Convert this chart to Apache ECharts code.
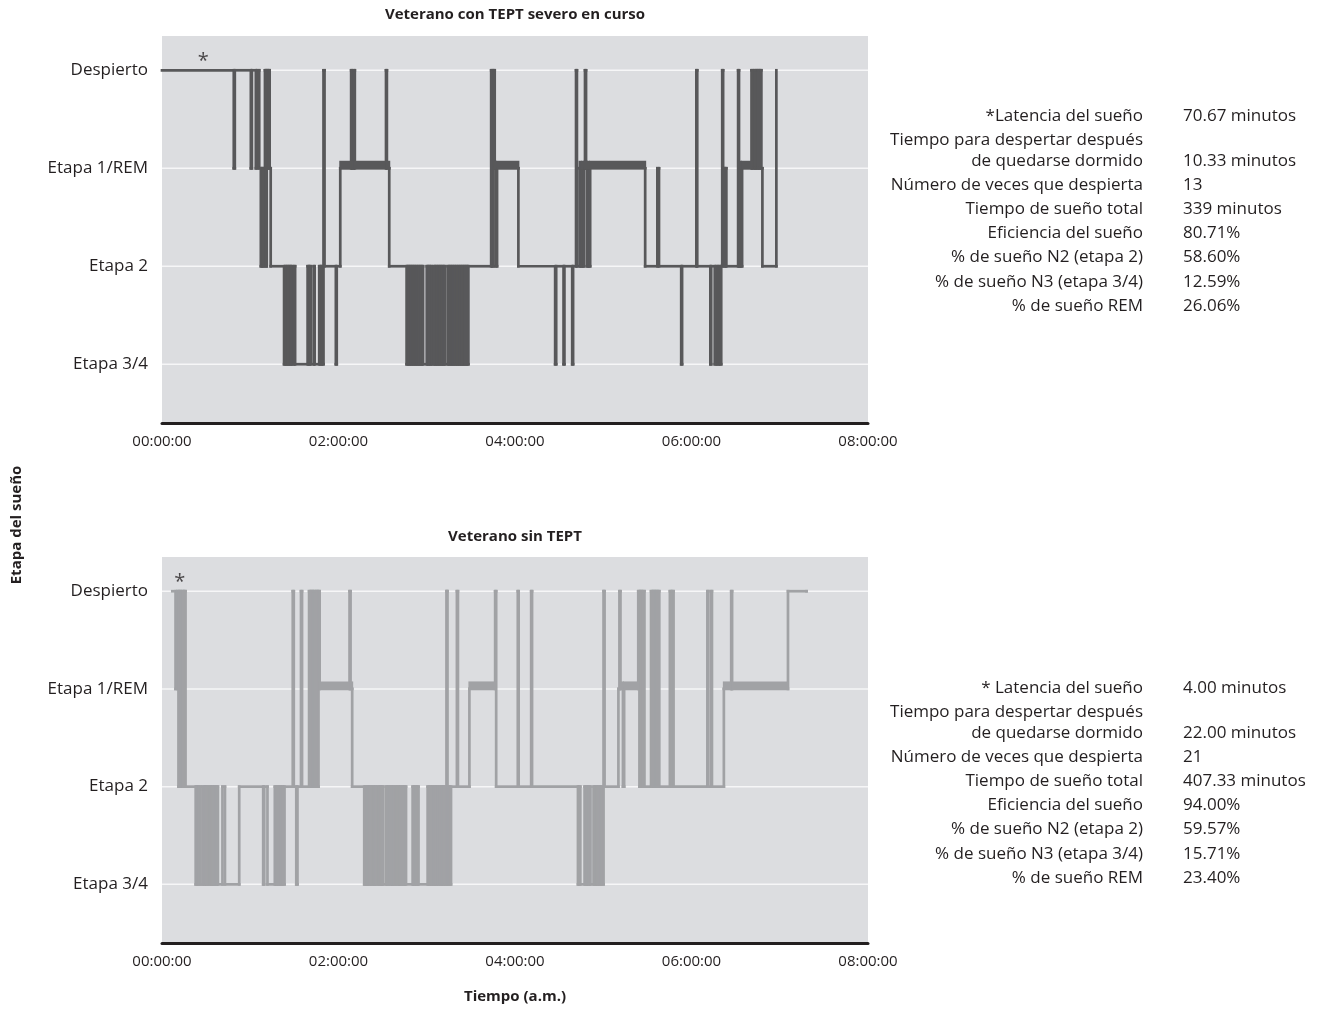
<!DOCTYPE html>
<html>
<head>
<meta charset="utf-8">
<title>Hipnogramas</title>
<script src="https://cdn.jsdelivr.net/npm/echarts@6/dist/echarts.min.js"></script>
<style>
  html, body { margin: 0; padding: 0; background: #ffffff; }
  #chart { width: 1321px; height: 1009px; }
</style>
</head>
<body>
<div id="chart"></div>
<script>
// Sleep stages shown on the vertical axis, bottom to top
const etapas = ['Etapa 3/4', 'Etapa 2', 'Etapa 1/REM', 'Despierto'];
// Clock labels for the time axis (minutes 0, 120, 240, 360, 480)
const horas = ['00:00:00', '02:00:00', '04:00:00', '06:00:00', '08:00:00'];

// Stage changes: [minute since start, stage]; W = awake, N1, R = REM, N2, N3
const severo = [
  [0,'W'],
  [48.8,'N1'],[49.5,'W'],[60.4,'N1'],[61.1,'W'],
  [63.8,'N1'],[64.6,'W'],[66.1,'N1'],[67.2,'N2'],[67.9,'N1'],[68.6,'N2'],[69.3,'N1'],[70,'W'],[70.6,'N2'],[71.2,'W'],[71.8,'N1'],[72.5,'W'],[73.2,'N1'],[73.9,'N2'],
  [83,'N3'],[83.7,'N2'],[84.4,'N3'],[85.1,'N2'],[85.8,'N3'],[86.5,'N2'],[87.2,'N3'],[87.9,'N2'],[88.6,'N3'],
  [89.8,'N2'],[90.5,'N3'],
  [99,'N2'],[99.7,'N3'],[100.4,'N2'],[101.1,'N3'],
  [103.1,'N2'],[103.8,'N3'],
  [106.9,'N2'],[107.6,'N3'],[108.4,'N2'],[109.1,'N3'],
  [109.8,'W'],[110.5,'N2'],
  [118.2,'N3'],[118.8,'N2'],
  [121.2,'R'],
  [128.6,'W'],[129.3,'R'],[130.3,'W'],[131.1,'R'],
  [152.3,'W'],[152.9,'R'],
  [154.5,'N2'],
  [166.3,'N3'],[167,'N2'],[167.7,'N3'],[168.4,'N2'],[169.1,'N3'],[169.8,'N2'],[170.5,'N3'],[171.2,'N2'],[171.9,'N3'],[172.6,'N2'],[173.3,'N3'],[174,'N2'],[174.7,'N3'],[175.4,'N2'],[176.1,'N3'],[176.8,'N2'],[177.5,'N3'],
  [180,'N2'],[180.7,'N3'],[181.4,'N2'],[182.1,'N3'],[182.8,'N2'],[183.5,'N3'],
  [184.8,'N2'],[185.5,'N3'],[186.2,'N2'],[186.9,'N3'],[187.6,'N2'],[188.3,'N3'],[189,'N2'],[189.7,'N3'],[190.4,'N2'],[191.1,'N3'],[191.8,'N2'],[192.5,'N3'],
  [194.3,'N2'],[195,'N3'],[195.7,'N2'],[196.4,'N3'],[197.1,'N2'],[197.8,'N3'],[198.5,'N2'],[199.2,'N3'],[199.9,'N2'],[200.6,'N3'],[201.3,'N2'],[202,'N3'],[202.7,'N2'],[203.4,'N3'],[204.1,'N2'],[204.8,'N3'],[205.5,'N2'],[206.2,'N3'],[206.9,'N2'],[207.6,'N3'],[208.3,'N2'],
  [223.8,'W'],[224.6,'N2'],[225.4,'W'],[226.2,'R'],[227,'N2'],[227.8,'R'],
  [242.3,'N2'],
  [267.3,'N3'],[268,'N2'],[273,'N3'],[273.6,'N2'],[278.9,'N3'],[279.5,'N2'],
  [281.5,'W'],[282.1,'N2'],[283.9,'R'],[284.7,'N2'],[285.5,'R'],[286.2,'N2'],[287,'R'],[287.6,'W'],[288.3,'R'],[289,'N2'],[289.7,'R'],[290.4,'N2'],[291.1,'R'],
  [328.5,'N2'],
  [336.8,'N1'],[337.9,'N2'],
  [353,'N3'],[353.6,'N2'],
  [363.3,'W'],[363.9,'N2'],
  [372.8,'N3'],[373.4,'N2'],
  [375.8,'N3'],[376.7,'N2'],[377.6,'N3'],[378.5,'N2'],[379.4,'N3'],[380.2,'N2'],
  [380.9,'W'],[381.5,'N1'],[382.2,'N2'],[383,'N1'],[383.7,'N2'],
  [391.7,'W'],[392.3,'N2'],[393,'R'],[393.7,'N2'],[394.4,'R'],
  [400.8,'W'],[401.5,'N1'],[402.6,'W'],[403.3,'N1'],[404,'W'],[404.7,'N1'],[405.4,'W'],[406.1,'N1'],[406.8,'W'],[407.5,'N1'],[408.2,'N2'],
  [417.7,'W']
];

const sinTept = [
  [7,'W'],[9.2,'N1'],[10.4,'W'],[11.2,'N2'],[12,'W'],[12.8,'N2'],[13.6,'W'],[14.4,'N2'],[15.2,'W'],[16,'N2'],
  [22.9,'N3'],[23.7,'N2'],[24.5,'N3'],[25.3,'N2'],[26.2,'N3'],[27.6,'N2'],[28.4,'N3'],[29.2,'N2'],[30,'N3'],[30.8,'N2'],[31.6,'N3'],[32.4,'N2'],[33.2,'N3'],[34,'N2'],[34.8,'N3'],[35.6,'N2'],[36.4,'N3'],[37.2,'N2'],[38,'N3'],
  [41.1,'N2'],[42.8,'N3'],
  [52.5,'N2'],
  [68.8,'N3'],[69.5,'N2'],[71.7,'N3'],
  [76.7,'N2'],[77.5,'N3'],[78.3,'N2'],[79.1,'N3'],[79.9,'N2'],[80.7,'N3'],[81.5,'N2'],[82.3,'N3'],[83.3,'N2'],
  [88.9,'W'],[89.6,'N2'],[91.3,'N3'],[92.1,'N2'],[94.5,'W'],[95.2,'N2'],
  [100,'W'],[100.8,'N2'],[101.6,'W'],[102.4,'N2'],[103.2,'W'],[104,'N2'],[104.8,'W'],[105.6,'N2'],[106.4,'W'],[107.2,'R'],
  [127.5,'W'],[128.2,'R'],[129.3,'N2'],
  [137.5,'N3'],[138.3,'N2'],[139.1,'N3'],[139.9,'N2'],[140.7,'N3'],[141.5,'N2'],[142.3,'N3'],[143.1,'N2'],[143.9,'N3'],[144.7,'N2'],[145.4,'N3'],
  [146.5,'N2'],[147.3,'N3'],[148.1,'N2'],[148.9,'N3'],[149.7,'N2'],[150.4,'N3'],
  [152.3,'N2'],[153.1,'N3'],[153.9,'N2'],[154.7,'N3'],[155.5,'N2'],[156.3,'N3'],[157.1,'N2'],[157.9,'N3'],[158.7,'N2'],[159.5,'N3'],[160.3,'N2'],[161.1,'N3'],[161.9,'N2'],[162.7,'N3'],[163.5,'N2'],[164.3,'N3'],[165.1,'N2'],[165.9,'N3'],
  [170.4,'N2'],[171.2,'N3'],[172,'N2'],[172.8,'N3'],[173.6,'N2'],[174.4,'N3'],
  [180.6,'N2'],[181.4,'N3'],[182.2,'N2'],[183,'N3'],[183.8,'N2'],[184.6,'N3'],[185.4,'N2'],[186.2,'N3'],[187,'N2'],[187.8,'N3'],[188.6,'N2'],[189.4,'N3'],[190.2,'N2'],[191,'N3'],[191.8,'N2'],[192.6,'N3'],[193.4,'W'],[194.1,'N3'],[194.8,'N2'],[195.5,'N3'],[196.5,'N2'],
  [200.5,'W'],[201.2,'N2'],
  [209,'R'],
  [226.5,'W'],[227.2,'N2'],
  [241.9,'W'],[242.5,'N2'],[251,'W'],[251.6,'N2'],
  [282.8,'N3'],[283.6,'N2'],[284.4,'N3'],
  [287.3,'N2'],[288.1,'N3'],[288.9,'N2'],[289.7,'N3'],[290.5,'N2'],[291.3,'N3'],
  [293.4,'N2'],[294.2,'N3'],[295,'N2'],[295.8,'N3'],[296.6,'N2'],[297.4,'N3'],[298.2,'N2'],[299,'N3'],
  [300.2,'W'],[300.9,'N2'],
  [310.3,'N1'],[311,'W'],[311.7,'R'],[313.4,'N2'],[314.2,'R'],
  [323.8,'W'],[324.6,'N2'],[325.4,'W'],[326.2,'N2'],[327,'W'],[328,'N2'],
  [332.5,'W'],[333.3,'N2'],[334.1,'W'],[334.9,'N2'],[335.7,'W'],[336.5,'N2'],[337.3,'W'],[338.1,'N2'],
  [345.3,'W'],[346.1,'N2'],[346.9,'W'],[347.8,'N2'],
  [370.8,'W'],[371.4,'N2'],[373.3,'W'],[373.9,'N2'],
  [382,'R'],
  [387,'W'],[387.6,'R'],
  [425.6,'W'],[438.2,'W']
];

// Summary figures printed beside each hypnogram
const severoEtiquetas = ['*Latencia del sueño', 'Tiempo para despertar después\nde quedarse dormido', 'Número de veces que despierta', 'Tiempo de sueño total', 'Eficiencia del sueño', '% de sueño N2 (etapa 2)', '% de sueño N3 (etapa 3/4)', '% de sueño REM'];
const severoValores = ['70.67 minutos', '10.33 minutos', '13', '339 minutos', '80.71%', '58.60%', '12.59%', '26.06%'];
const sinEtiquetas = ['* Latencia del sueño', 'Tiempo para despertar después\nde quedarse dormido', 'Número de veces que despierta', 'Tiempo de sueño total', 'Eficiencia del sueño', '% de sueño N2 (etapa 2)', '% de sueño N3 (etapa 3/4)', '% de sueño REM'];
const sinValores = ['4.00 minutos', '22.00 minutos', '21', '407.33 minutos', '94.00%', '59.57%', '15.71%', '23.40%'];

const nivel = { W: 4, N1: 3, R: 3, N2: 2, N3: 1 };
const FONT = '"Open Sans", "Noto Sans", sans-serif';
const TXT = '#231f20';
const GROSOR = 2.7;

// One item per stage epoch: [start, end, level, next level]
function tramos(cambios) {
  const out = [];
  for (let i = 0; i < cambios.length - 1; i++) {
    out.push([cambios[i][0], cambios[i + 1][0], nivel[cambios[i][1]], nivel[cambios[i + 1][1]]]);
  }
  return out;
}
function tramosREM(cambios) {
  const out = [];
  for (let i = 0; i < cambios.length - 1; i++) {
    if (cambios[i][1] === 'R') out.push([cambios[i][0], cambios[i + 1][0]]);
  }
  return out;
}

function ejes(idx) {
  return {
    x: {
      type: 'value', gridIndex: idx, min: 0, max: 480, interval: 120,
      axisLine: { show: true, onZero: false, lineStyle: { color: TXT, width: 3 } },
      axisTick: { show: false }, splitLine: { show: false },
      axisLabel: { formatter: v => horas[Math.round(v / 120)] || '', color: TXT, fontSize: 15, fontFamily: FONT, margin: 11 }
    },
    y: {
      type: 'value', gridIndex: idx, min: 0.4, max: 4.35,
      axisLine: { show: false }, axisTick: { show: false }, splitLine: { show: false },
      axisLabel: {
        customValues: [1, 2, 3, 4],
        formatter: v => (Number.isInteger(v) && etapas[v - 1]) ? etapas[v - 1] : '',
        color: TXT, fontSize: 17, fontFamily: FONT, margin: 14
      }
    }
  };
}

function series(idx, cambios, color, asterisco) {
  const h = GROSOR / 2;
  return [
    {
      // white guide lines at each stage level
      type: 'custom', xAxisIndex: idx, yAxisIndex: idx, z: 1, silent: true,
      data: [[0, 1], [0, 2], [0, 3], [0, 4]],
      renderItem: (params, api) => {
        const y = api.coord([0, api.value(1)])[1];
        const cs = params.coordSys;
        return { type: 'line', shape: { x1: cs.x, y1: y, x2: cs.x + cs.width, y2: y }, style: { stroke: '#f6f6f7', lineWidth: 1.5 } };
      }
    },
    {
      // stepped hypnogram: a horizontal run at the current stage, then the jump to the next one
      type: 'custom', xAxisIndex: idx, yAxisIndex: idx, z: 3, silent: true,
      data: tramos(cambios),
      renderItem: (params, api) => {
        const a = api.coord([api.value(0), api.value(2)]);
        const b = api.coord([api.value(1), api.value(2)]);
        const c = api.coord([api.value(1), api.value(3)]);
        const top = Math.min(b[1], c[1]), bot = Math.max(b[1], c[1]);
        return {
          type: 'group',
          children: [
            { type: 'rect', shape: { x: a[0] - h, y: a[1] - h, width: b[0] - a[0] + 2 * h, height: 2 * h }, style: { fill: color } },
            { type: 'rect', shape: { x: b[0] - h, y: top - h, width: 2 * h, height: bot - top + 2 * h }, style: { fill: color } }
          ]
        };
      }
    },
    {
      // REM periods drawn as a heavier bar
      type: 'custom', xAxisIndex: idx, yAxisIndex: idx, z: 4, silent: true,
      data: tramosREM(cambios),
      renderItem: (params, api) => {
        const a = api.coord([api.value(0), 3]);
        const b = api.coord([api.value(1), 3]);
        return { type: 'rect', shape: { x: a[0] - 1, y: a[1] - 7.5, width: b[0] - a[0] + 2, height: 8.5 }, style: { fill: color } };
      }
    },
    {
      type: 'scatter', xAxisIndex: idx, yAxisIndex: idx, z: 5, silent: true,
      data: [[asterisco, 4]], symbolSize: 0,
      label: { show: true, formatter: '*', position: 'top', distance: -1, color: TXT, fontSize: 20, fontFamily: FONT }
    }
  ];
}

function bloqueTexto(etiquetas, valores, y0) {
  const els = [];
  let y = y0;
  etiquetas.forEach((et, i) => {
    const lineas = et.split('\n');
    lineas.forEach((l, j) => {
      els.push({ type: 'text', x: 1143, y: y + j * 20.5, style: { text: l, fill: TXT, font: '17px ' + FONT, align: 'right', verticalAlign: 'middle' } });
    });
    const yv = y + (lineas.length - 1) * 20.5;
    els.push({ type: 'text', x: 1183, y: yv, style: { text: valores[i], fill: TXT, font: '17px ' + FONT, align: 'left', verticalAlign: 'middle' } });
    y = yv + 24.2;
  });
  return els;
}

const e0 = ejes(0), e1 = ejes(1);
const chart = echarts.init(document.getElementById('chart'), null, { renderer: 'canvas' });
chart.setOption({
  animation: false,
  backgroundColor: '#ffffff',
  grid: [
    { left: 162, top: 36, width: 706, height: 387, show: true, backgroundColor: '#dcdde0', borderWidth: 0 },
    { left: 162, top: 557, width: 706, height: 386, show: true, backgroundColor: '#dcdde0', borderWidth: 0 }
  ],
  xAxis: [e0.x, e1.x],
  yAxis: [e0.y, e1.y],
  series: [].concat(
    series(0, severo, '#58585a', 28),
    series(1, sinTept, '#a1a2a5', 12)
  ),
  graphic: [
    { type: 'text', x: 515, y: 15, style: { text: 'Veterano con TEPT severo en curso', fill: TXT, font: 'bold 15px ' + FONT, align: 'center', verticalAlign: 'middle' } },
    { type: 'text', x: 515, y: 537, style: { text: 'Veterano sin TEPT', fill: TXT, font: 'bold 15px ' + FONT, align: 'center', verticalAlign: 'middle' } },
    { type: 'text', x: 17, y: 525, rotation: Math.PI / 2, style: { text: 'Etapa del sueño', fill: TXT, font: 'bold 15px ' + FONT, align: 'center', verticalAlign: 'middle' } },
    { type: 'text', x: 515, y: 997, style: { text: 'Tiempo (a.m.)', fill: TXT, font: 'bold 15px ' + FONT, align: 'center', verticalAlign: 'middle' } }
  ].concat(bloqueTexto(severoEtiquetas, severoValores, 116), bloqueTexto(sinEtiquetas, sinValores, 688))
});
</script>
</body>
</html>
